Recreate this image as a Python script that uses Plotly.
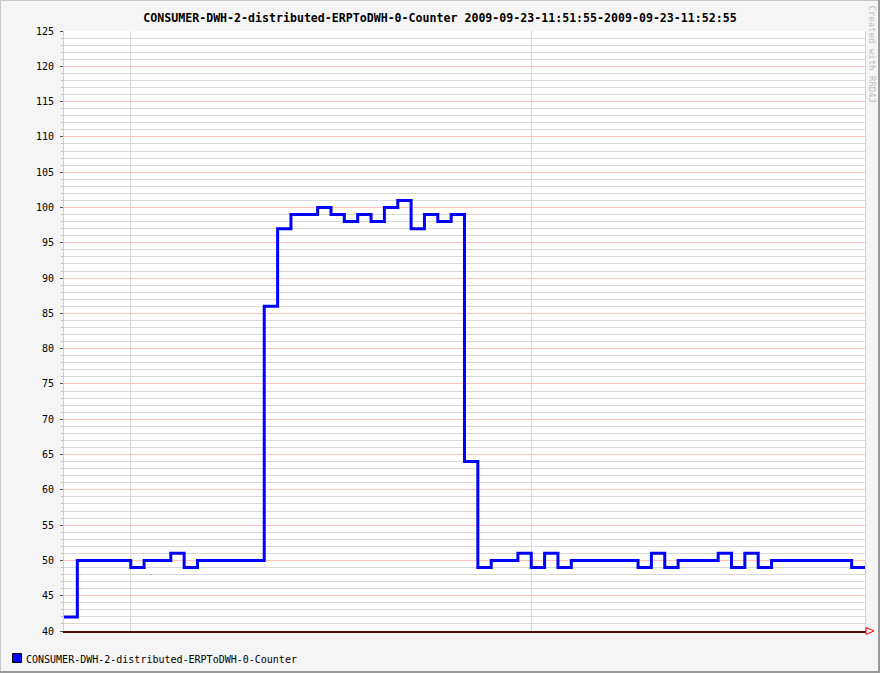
import numpy as np
import plotly.graph_objects as go

title_text = "CONSUMER-DWH-2-distributed-ERPToDWH-0-Counter 2009-09-23-11:51:55-2009-09-23-11:52:55"
series_name = "CONSUMER-DWH-2-distributed-ERPToDWH-0-Counter"
step_seconds = 1
values = [42, 50, 50, 50, 50, 49, 50, 50, 51, 49,
          50, 50, 50, 50, 50, 86, 97, 99, 99, 100,
          99, 98, 99, 98, 100, 101, 97, 99, 98, 99,
          64, 49, 50, 50, 51, 49, 51, 49, 50, 50,
          50, 50, 50, 49, 51, 49, 50, 50, 50, 51,
          49, 51, 49, 50, 50, 50, 50, 50, 50, 49]
y_min, y_max = 40, 125
y_major = 5
y_minor = 1
x_grid_start = 5   # 11:52:00 relative to 11:51:55
x_grid_step = 30

W, H = 880, 673
L, R, T, B = 64, 15, 31, 42
pw, ph = W - L - R, H - T - B

n = len(values)
x = list(np.arange(n + 1) * step_seconds)
y = values + [values[-1]]

font_mono = "DejaVu Sans Mono"

def px_x(p):
    return (p - L) / pw

def px_y(p):
    return (H - B - p) / ph

fig = go.Figure()
fig.add_trace(go.Scatter(
    x=x, y=y, mode="lines", line=dict(color="#0000ff", width=3, shape="hv"),
    name=series_name, showlegend=False, hoverinfo="skip"))

shapes = []
# outer border
shapes.append(dict(type="line", xref="paper", yref="paper", x0=px_x(0.5), x1=px_x(W - 0.5), y0=px_y(0.5), y1=px_y(0.5), line=dict(color="#c8c8c8", width=1), layer="above"))
shapes.append(dict(type="line", xref="paper", yref="paper", x0=px_x(0.5), x1=px_x(0.5), y0=px_y(0.5), y1=px_y(H - 0.5), line=dict(color="#c8c8c8", width=1), layer="above"))
shapes.append(dict(type="line", xref="paper", yref="paper", x0=px_x(0), x1=px_x(W), y0=px_y(H - 1), y1=px_y(H - 1), line=dict(color="#999999", width=2), layer="above"))
shapes.append(dict(type="line", xref="paper", yref="paper", x0=px_x(W - 1), x1=px_x(W - 1), y0=px_y(0), y1=px_y(H), line=dict(color="#999999", width=2), layer="above"))
# x-axis arrow
ax0 = px_x(866); ax1 = px_x(874)
shapes.append(dict(type="path", xref="paper", yref="paper",
                   path=f"M {ax0},{px_y(627.5)} L {ax0},{px_y(634.5)} L {ax1},{px_y(631)} Z",
                   line=dict(color="#ff0000", width=1), fillcolor="rgba(0,0,0,0)", layer="above"))
# legend swatch
shapes.append(dict(type="rect", xref="paper", yref="paper",
                   x0=px_x(12.5), x1=px_x(21.5), y0=px_y(653.5), y1=px_y(662.5),
                   line=dict(color="#000000", width=1), fillcolor="#0000ff", layer="above"))

annotations = [
    dict(text=series_name, xref="paper", yref="paper", x=px_x(24), y=px_y(659),
         xanchor="left", yanchor="middle", showarrow=False,
         font=dict(family=font_mono, size=10, color="#000000")),
    dict(text="Created with RRD4J", xref="paper", yref="paper", x=px_x(871.5), y=px_y(4),
         xanchor="center", yanchor="top", showarrow=False, textangle=90,
         font=dict(family=font_mono, size=9, color="#c0c0c0")),
]

fig.update_layout(
    width=W, height=H,
    margin=dict(l=L, r=R, t=T, b=B, pad=0),
    paper_bgcolor="#f5f5f5", plot_bgcolor="#ffffff",
    title=dict(text="<b>" + title_text + "</b>", x=0.5, xref="container", xanchor="center",
               y=1 - 18 / H, yref="container", yanchor="middle",
               font=dict(family=font_mono, size=11.6, color="#000000")),
    showlegend=False,
    shapes=shapes, annotations=annotations,
    xaxis=dict(range=[0, n * step_seconds], tick0=x_grid_start, dtick=x_grid_step,
               showticklabels=False, ticks="", showgrid=True, gridcolor="#d8d8d8", gridwidth=1,
               zeroline=False, showline=True, linecolor="#4a0f0f", linewidth=1.5, mirror=False,
               fixedrange=True),
    yaxis=dict(range=[y_min, y_max], tick0=y_min, dtick=y_major,
               showgrid=True, gridcolor="#ffc0c0", gridwidth=1,
               ticks="outside", ticklen=3, tickcolor="#555555", tickwidth=1,
               ticklabelstandoff=4,
               minor=dict(dtick=y_minor, tick0=y_min, showgrid=True, gridcolor="#d8d8d8", gridwidth=1,
                          ticks="outside", ticklen=2, tickcolor="#bbbbbb"),
               zeroline=False, showline=True, linecolor="#d0d0d0", linewidth=1, mirror=True,
               tickfont=dict(family=font_mono, size=10, color="#000000"),
               fixedrange=True),
)

fig.write_html("out.html", config={"displayModeBar": False},
               post_script="document.body.style.margin='0';document.body.style.overflow='hidden';")
